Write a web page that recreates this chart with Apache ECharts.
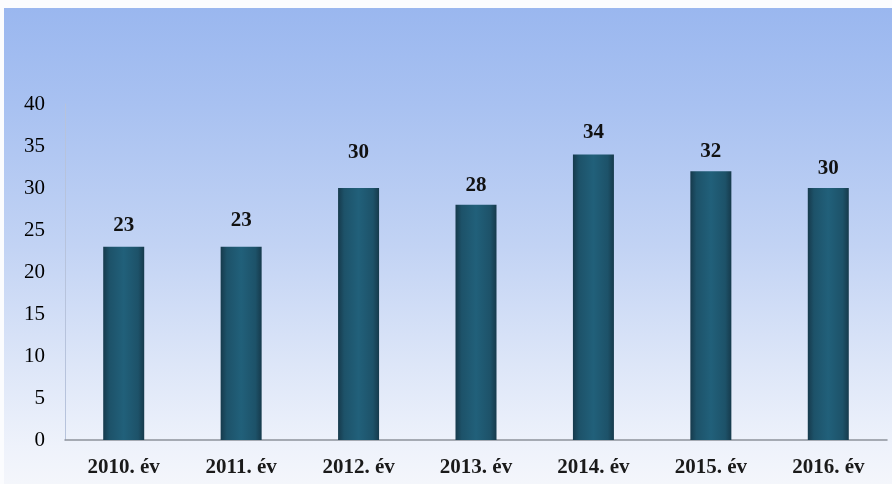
<!DOCTYPE html>
<html>
<head>
<meta charset="utf-8">
<script src="https://cdn.jsdelivr.net/npm/echarts@6/dist/echarts.min.js"></script>
<style>
html,body{margin:0;padding:0;background:#fbfcfe;}
#bg{position:absolute;left:4px;top:8px;width:888px;height:476px;
background:linear-gradient(to bottom,#9ab7ef 0%,#a8c1f1 20%,#c2d3f4 50%,#dde6f8 75%,#eef2fb 92%,#f4f6fb 100%);}
#chart{position:absolute;left:0;top:0;width:892px;height:484px;}
</style>
</head>
<body>
<div id="bg"></div>
<div id="chart"></div>
<script>
const categories = ['2010. év','2011. év','2012. év','2013. év','2014. év','2015. év','2016. év'];
const values = [23, 23, 30, 28, 34, 32, 30];
const yTicks = [0, 5, 10, 15, 20, 25, 30, 35, 40];

const chart = echarts.init(document.getElementById('chart'), null, {renderer:'canvas'});
const font = '"Liberation Serif","Times New Roman",serif';
const barColor = new echarts.graphic.LinearGradient(0,0,1,0,[
  {offset:0,color:'#163a4c'},
  {offset:0.15,color:'#1d5269'},
  {offset:0.5,color:'#21607a'},
  {offset:0.85,color:'#1d5269'},
  {offset:1,color:'#163a4c'}
]);
// label gaps as seen in the reference (purely cosmetic)
const labelGap = [11, 16, 25, 9, 11, 9, 9];
chart.setOption({
  backgroundColor:'transparent',
  animation:false,
  grid:{left:65,right:5,top:104,bottom:44,containLabel:false},
  xAxis:{
    type:'category',
    data:categories,
    axisLine:{show:true,lineStyle:{color:'#8d929c',width:1.5}},
    axisTick:{show:false},
    axisLabel:{fontFamily:font,fontWeight:'bold',fontSize:21,color:'#1a1a1a',margin:17}
  },
  yAxis:{
    type:'value',
    min:yTicks[0],
    max:yTicks[yTicks.length-1],
    interval:5,
    axisLine:{show:true,lineStyle:{color:'#b7c3dc',width:1}},
    axisTick:{show:false},
    splitLine:{show:false},
    axisLabel:{fontFamily:font,fontSize:21,color:'#000',margin:20}
  },
  series:[{
    type:'bar',
    data:values.map((v,i)=>({value:v,label:{distance:labelGap[i]}})),
    barWidth:41,
    itemStyle:{color:barColor},
    label:{show:true,position:'top',fontFamily:font,fontWeight:'bold',fontSize:21,color:'#111'}
  }]
});
</script>
</body>
</html>
